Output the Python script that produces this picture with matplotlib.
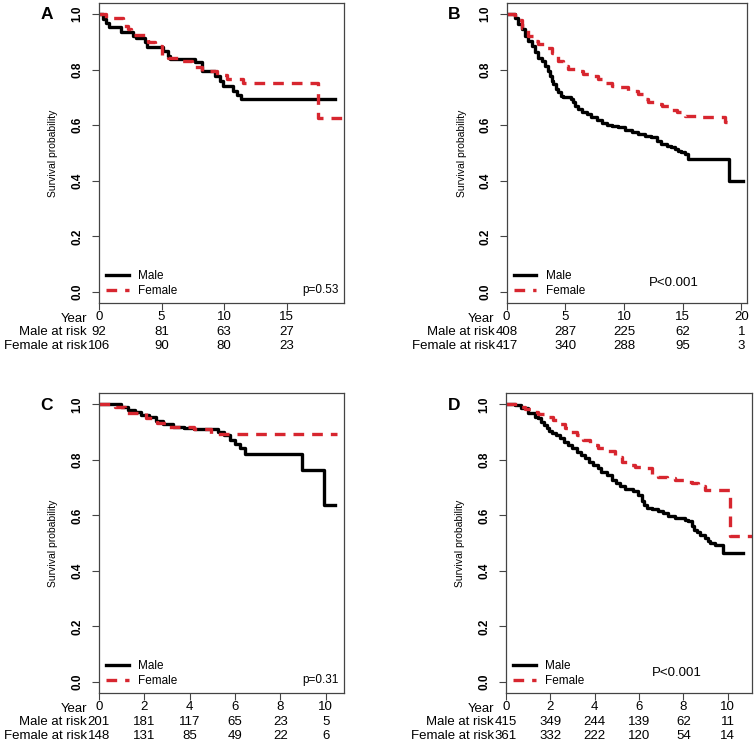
import matplotlib
matplotlib.use('Agg')
import matplotlib.pyplot as plt
import numpy as np

plt.rcParams['font.family'] = ['Liberation Sans', 'DejaVu Sans']

# Panel A
a_male_t = [0, 0.35, 0.56, 0.8, 1.73, 2.74, 2.95, 3.67, 3.8, 5.13, 5.5, 5.7, 7.66, 8.2, 9.25, 9.65, 9.9, 10.7, 10.98, 11.3, 18.83]
a_male_s = [1.0, 0.982, 0.967, 0.955, 0.934, 0.922, 0.913, 0.898, 0.88, 0.866, 0.851, 0.839, 0.829, 0.797, 0.779, 0.761, 0.743, 0.725, 0.71, 0.693, 0.693]
a_female_t = [0, 0.6, 1.9, 2.3, 2.6, 3.9, 4.5, 5.0, 5.5, 6.3, 7.4, 8.2, 9.4, 10.2, 11.5, 17.5, 19.6]
a_female_s = [1.0, 0.985, 0.958, 0.945, 0.925, 0.9, 0.885, 0.85, 0.843, 0.83, 0.81, 0.795, 0.78, 0.765, 0.752, 0.625, 0.625]
a_ticks = [0, 5, 10, 15]
a_male_risk = [92, 81, 63, 27]
a_female_risk = [106, 90, 80, 23]

# Panel B
b_male_t = [0, 0.71, 0.99, 1.28, 1.56, 1.84, 2.13, 2.41, 2.70, 2.98, 3.26, 3.49, 3.69, 3.83, 3.97, 4.17, 4.40, 4.62, 4.82,
            5.45, 5.67, 5.82, 6.10, 6.38, 6.81, 7.23, 7.66, 8.09, 8.51, 8.94, 9.50, 10.07, 10.64, 11.21, 11.77, 12.34,
            12.77, 13.19, 13.62, 14.04, 14.33, 14.61, 14.89, 15.18, 15.46, 18.92, 20.14]
b_male_s = [1.0, 0.987, 0.963, 0.945, 0.921, 0.903, 0.885, 0.863, 0.843, 0.831, 0.814, 0.796, 0.778, 0.760, 0.748, 0.730, 0.718, 0.706, 0.700,
            0.694, 0.682, 0.670, 0.658, 0.649, 0.640, 0.628, 0.620, 0.608, 0.602, 0.596, 0.593, 0.584, 0.577, 0.569, 0.563, 0.557,
            0.545, 0.533, 0.527, 0.521, 0.515, 0.509, 0.503, 0.497, 0.479, 0.401, 0.401]
b_female_t = [0, 0.71, 1.28, 1.84, 2.27, 2.70, 3.26, 3.83, 4.4, 4.82, 5.25, 5.8, 6.52, 7.2, 7.8, 8.4, 8.94, 9.6, 10.35,
              11.2, 11.63, 12.05, 12.62, 13.2, 13.9, 14.5, 15.2, 16.3, 17.45, 18.6, 19.4]
b_female_s = [1.0, 0.98, 0.95, 0.92, 0.903, 0.891, 0.879, 0.861, 0.832, 0.813, 0.804, 0.795, 0.786, 0.778, 0.766, 0.751, 0.742, 0.736, 0.724,
              0.712, 0.694, 0.682, 0.675, 0.668, 0.656, 0.646, 0.634, 0.631, 0.628, 0.613, 0.613]
b_ticks = [0, 5, 10, 15, 20]
b_male_risk = [408, 287, 225, 62, 1]
b_female_risk = [417, 340, 288, 95, 3]

# Panel C
c_male_t = [0, 0.98, 1.28, 1.57, 1.86, 2.23, 2.53, 2.82, 3.26, 3.77, 4.2, 5.24, 5.5, 5.76, 5.98, 6.24, 6.42, 8.94, 9.91, 10.4]
c_male_s = [1.0, 0.99, 0.98, 0.971, 0.962, 0.953, 0.941, 0.928, 0.92, 0.914, 0.91, 0.902, 0.89, 0.872, 0.857, 0.842, 0.82, 0.763, 0.636, 0.636]
c_female_t = [0, 0.69, 1.13, 2.08, 2.55, 3.04, 4.2, 4.95, 10.5]
c_female_s = [1.0, 0.99, 0.968, 0.95, 0.932, 0.92, 0.911, 0.893, 0.893]
c_ticks = [0, 2, 4, 6, 8, 10]
c_male_risk = [201, 181, 117, 65, 23, 5]
c_female_risk = [148, 131, 85, 49, 22, 6]

# Panel D
d_male_t = [0, 0.41, 0.7, 1.0, 1.3, 1.46, 1.6, 1.73, 1.84, 1.94, 2.06, 2.24, 2.44, 2.63, 2.81, 2.99, 3.2, 3.38, 3.56, 3.74,
            3.94, 4.14, 4.3, 4.54, 4.77, 4.95, 5.14, 5.37, 5.74, 5.97, 6.12, 6.24, 6.35, 6.57, 6.87, 7.1, 7.32, 7.62,
            8.08, 8.23, 8.38, 8.5, 8.6, 8.75, 8.98, 9.1, 9.2, 9.43, 9.8, 10.7]
d_male_s = [1.0, 0.997, 0.986, 0.968, 0.956, 0.95, 0.938, 0.926, 0.914, 0.904, 0.896, 0.888, 0.878, 0.866, 0.854, 0.842, 0.83, 0.818, 0.806, 0.794,
            0.782, 0.77, 0.758, 0.744, 0.728, 0.717, 0.705, 0.696, 0.687, 0.675, 0.651, 0.639, 0.627, 0.624, 0.617, 0.609, 0.597, 0.591,
            0.585, 0.579, 0.561, 0.549, 0.541, 0.531, 0.519, 0.507, 0.501, 0.495, 0.465, 0.465]
d_female_t = [0, 0.56, 0.86, 1.16, 1.46, 1.76, 2.14, 2.36, 2.66, 2.89, 3.2, 3.49, 3.79, 4.17, 4.47, 4.92, 5.22, 5.52, 5.82,
              6.12, 6.57, 6.87, 7.25, 7.62, 8.08, 8.38, 8.68, 8.98, 10.1, 11.2]
d_female_s = [1.0, 0.992, 0.983, 0.974, 0.964, 0.956, 0.944, 0.928, 0.914, 0.902, 0.888, 0.872, 0.854, 0.842, 0.832, 0.81, 0.794, 0.78, 0.776,
              0.77, 0.75, 0.74, 0.734, 0.728, 0.72, 0.716, 0.705, 0.693, 0.525, 0.525]
d_ticks = [0, 2, 4, 6, 8, 10]
d_male_risk = [415, 349, 244, 139, 62, 11]
d_female_risk = [361, 332, 222, 120, 54, 14]

RED = '#d7262f'
SPINE = '#444444'

fig = plt.figure(figsize=(7.55, 7.43), dpi=100)


def draw_panel(rect, letter, xmax, male_t, male_s, female_t, female_s,
               ticks, male_risk, female_risk, ptext, pstyle):
    ax = fig.add_axes(rect)
    ax.step(male_t, male_s, where='post', color='black', lw=2.4, label='Male')
    ax.step(female_t, female_s, where='post', color=RED, lw=2.4,
            linestyle=(0, (3.2, 2.4)), label='Female')
    ax.set_xlim(0, xmax)
    ax.set_ylim(-0.04, 1.04)
    ax.set_xticks(ticks)
    ax.set_xticklabels([str(t) for t in ticks], fontsize=9.5)
    ax.set_yticks([0, 0.2, 0.4, 0.6, 0.8, 1.0])
    ax.set_yticklabels(['0.0', '0.2', '0.4', '0.6', '0.8', '1.0'],
                       fontsize=8.5, fontweight='bold', rotation=90, va='center')
    ax.tick_params(axis='both', length=5, width=0.8, color=SPINE)
    ax.tick_params(axis='x', pad=1)
    ax.tick_params(axis='y', pad=6)
    for s in ax.spines.values():
        s.set_color(SPINE)
        s.set_linewidth(0.9)
    ax.set_ylabel('Survival probability', fontsize=7.5)
    ax.yaxis.set_label_coords(-0.165, 0.5)

    ax.legend(loc='lower left', bbox_to_anchor=(0.03, 0.02), frameon=False,
              fontsize=8.5, handlelength=1.9, handletextpad=0.8,
              labelspacing=0.25, borderpad=0, borderaxespad=0)

    if pstyle == 'right':
        ax.text(0.98, 0.045, ptext, transform=ax.transAxes, ha='right',
                va='center', fontsize=8.5)
    else:
        ax.text(0.695, 0.068, ptext, transform=ax.transAxes, ha='center',
                va='center', fontsize=9.5)

    # number at risk table
    ax.annotate('Year', xy=(0, 0), xycoords='axes fraction', xytext=(-12, -16),
                textcoords='offset pixels', ha='right', va='center', fontsize=9.5)
    ax.annotate('Male at risk', xy=(0, 0), xycoords='axes fraction', xytext=(-12, -29),
                textcoords='offset pixels', ha='right', va='center', fontsize=9.5)
    ax.annotate('Female at risk', xy=(0, 0), xycoords='axes fraction', xytext=(-12, -43),
                textcoords='offset pixels', ha='right', va='center', fontsize=9.5)
    for t, m, f in zip(ticks, male_risk, female_risk):
        ax.annotate(str(m), xy=(t, 0), xycoords=('data', 'axes fraction'), xytext=(0, -29),
                    textcoords='offset pixels', ha='center', va='center', fontsize=9.5)
        ax.annotate(str(f), xy=(t, 0), xycoords=('data', 'axes fraction'), xytext=(0, -43),
                    textcoords='offset pixels', ha='center', va='center', fontsize=9.5)

    fig.text(rect[0] - 0.069, rect[1] + rect[3] - 0.016, letter, fontsize=12.5,
             fontweight='bold', ha='center', va='center')
    return ax


draw_panel([0.131, 0.592, 0.3245, 0.404], 'A', 19.55, a_male_t, a_male_s,
           a_female_t, a_female_s, a_ticks, a_male_risk, a_female_risk, 'p=0.53', 'right')
draw_panel([0.671, 0.592, 0.318, 0.404], 'B', 20.45, b_male_t, b_male_s,
           b_female_t, b_female_s, b_ticks, b_male_risk, b_female_risk, 'P<0.001', 'center')
draw_panel([0.131, 0.0673, 0.3245, 0.4034], 'C', 10.8, c_male_t, c_male_s,
           c_female_t, c_female_s, c_ticks, c_male_risk, c_female_risk, 'p=0.31', 'right')
draw_panel([0.670, 0.0673, 0.3256, 0.4034], 'D', 11.08, d_male_t, d_male_s,
           d_female_t, d_female_s, d_ticks, d_male_risk, d_female_risk, 'P<0.001', 'center')

fig.savefig('out.png', dpi=100)
